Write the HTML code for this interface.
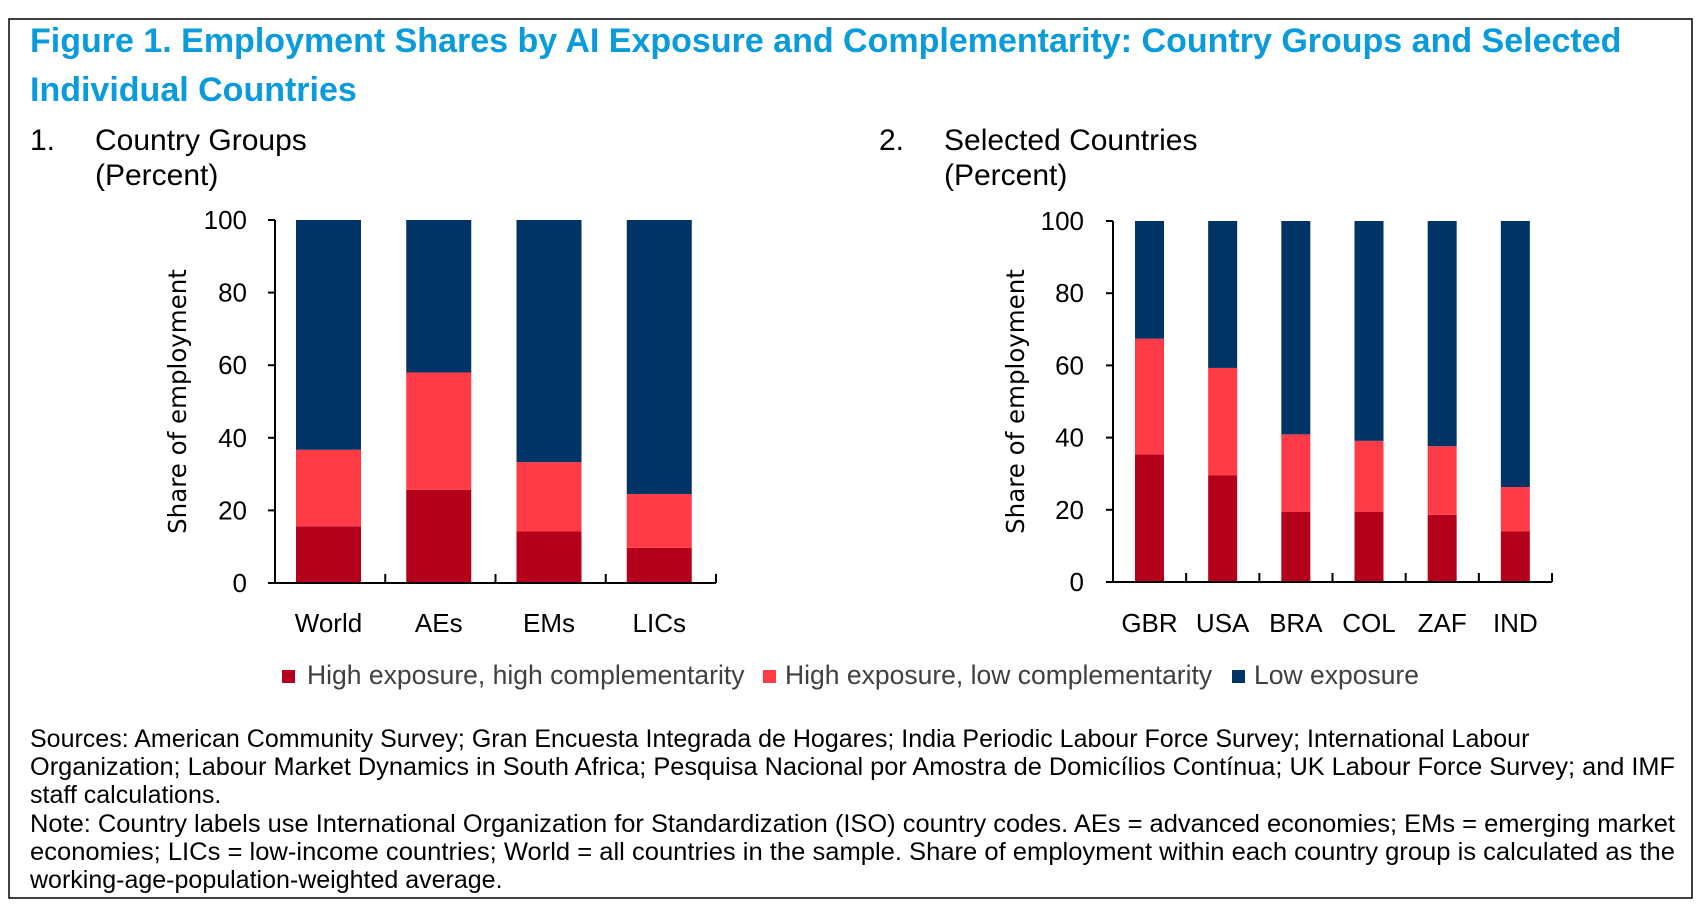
<!DOCTYPE html>
<html><head><meta charset="utf-8"><style>
html,body{margin:0;padding:0;background:#fff;}
svg{display:block;}
</style></head><body>
<svg id="fig" width="1702" height="916" xmlns="http://www.w3.org/2000/svg">
<rect x="9" y="19" width="1683" height="879" fill="none" stroke="#000" stroke-width="1.5"/>
<g font-family="Liberation Sans, Arial, sans-serif" font-weight="bold" fill="#0a9bdc" font-size="34">
<text x="30" y="52">Figure 1.  Employment Shares by AI Exposure and Complementarity: Country Groups and Selected</text>
<text x="30" y="101">Individual Countries</text>
</g>
<g font-family="Liberation Sans, Arial, sans-serif" font-size="30" fill="#000">
<text x="30" y="150">1.</text>
<text x="95" y="150">Country Groups</text>
<text x="95" y="185">(Percent)</text>
<text x="879" y="150">2.</text>
<text x="944" y="150">Selected Countries</text>
<text x="944" y="185">(Percent)</text>
</g>
<g id="chart1"></g>
<g id="chart2"></g>
<g font-family="Liberation Sans, Arial, sans-serif" font-size="26.5" fill="#404040">
<g><rect x="282" y="670" width="13" height="13" fill="#b5001c"/><text x="307" y="684">High exposure, high complementarity</text></g>
<g><rect x="763" y="670" width="13" height="13" fill="#ff3b48"/><text x="785" y="684">High exposure, low complementarity</text></g>
<g><rect x="1232" y="670" width="13" height="13" fill="#003366"/><text x="1254" y="684">Low exposure</text></g>
</g>
<g font-family="Liberation Sans, Arial, sans-serif" font-size="25" fill="#000">
<text x="30" y="747">Sources: American Community Survey; Gran Encuesta Integrada de Hogares; India Periodic Labour Force Survey; International Labour</text>
<text x="30" y="775" textLength="1645" lengthAdjust="spacingAndGlyphs">Organization; Labour Market Dynamics in South Africa; Pesquisa Nacional por Amostra de Domicílios Contínua; UK Labour Force Survey; and IMF</text>
<text x="30" y="803">staff calculations.</text>
<text x="30" y="832" textLength="1645" lengthAdjust="spacingAndGlyphs">Note: Country labels use International Organization for Standardization (ISO) country codes. AEs = advanced economies; EMs = emerging market</text>
<text x="30" y="860" textLength="1645" lengthAdjust="spacingAndGlyphs">economies; LICs = low-income countries; World = all countries in the sample. Share of employment within each country group is calculated as the</text>
<text x="30" y="888">working-age-population-weighted average.</text>
</g>
</svg>
<script>
const groupCats = ["World","AEs","EMs","LICs"];
const groupHighHigh = [15.6, 25.7, 14.2, 9.7];
const groupHighLow = [21.1, 32.3, 19.1, 14.8];
const groupLow = [63.3, 42.0, 66.7, 75.5];
const countryCats = ["GBR","USA","BRA","COL","ZAF","IND"];
const countryHighHigh = [35.3, 29.5, 19.4, 19.4, 18.6, 14.0];
const countryHighLow = [32.1, 29.8, 21.5, 19.7, 19.0, 12.3];
const countryLow = [32.6, 40.7, 59.1, 60.9, 62.4, 73.7];
const yTicks = [0, 20, 40, 60, 80, 100];
const colors = ["#b5001c", "#ff3b48", "#003366"];
const NS = "http://www.w3.org/2000/svg";
function mk(tag, attrs, parent){const e=document.createElementNS(NS,tag);for(const k in attrs)e.setAttribute(k,attrs[k]);parent.appendChild(e);return e;}
function draw(gid, cats, series, L){
  const g=document.getElementById(gid);
  const y=v=>L.y0-(L.y0-L.y100)*v/100;
  const bw=(L.x1-L.x0)/cats.length;
  const ax=mk('line',{x1:L.x0,y1:L.y100,x2:L.x0,y2:L.y0,stroke:'#000','stroke-width':2},g);
  
  
  cats.forEach((c,i)=>{
    let acc=0;
    series.forEach((s,j)=>{
      const r=mk('rect',{x:L.x0+i*bw+L.off,y:y(acc+s[i]),width:L.w,height:y(acc)-y(acc+s[i]),fill:colors[j]},g);
      
      
      acc+=s[i];
    });
    const t=mk('text',{x:L.x0+i*bw+L.off+L.w/2,y:632,'text-anchor':'middle','font-family':'Liberation Sans, Arial, sans-serif','font-size':26},g);
    t.textContent=c;
    
    
    const tk=mk('line',{x1:L.x0+(i+1)*bw,y1:L.y0,x2:L.x0+(i+1)*bw,y2:L.y0-9,stroke:'#000','stroke-width':2},g);
    
    
  });
  const xa=mk('line',{x1:L.x0,y1:L.y0,x2:L.x1,y2:L.y0,stroke:'#000','stroke-width':2},g);
  
  
  yTicks.forEach(v=>{
    const l=mk('line',{x1:L.x0-7,y1:y(v),x2:L.x0,y2:y(v),stroke:'#000','stroke-width':2},g);
    
    
    const t=mk('text',{x:L.lx,y:y(v)+9,'text-anchor':'end','font-family':'Liberation Sans, Arial, sans-serif','font-size':26},g);
    t.textContent=v;
    
    
  });
  const yt=mk('text',{x:0,y:0,transform:'translate('+L.tx+','+((L.y0+L.y100)/2)+') rotate(-90)','text-anchor':'middle','font-family':'DejaVu Sans, sans-serif','font-size':24.5},g);
  yt.textContent='Share of employment';
  
  
}
draw('chart1',groupCats,[groupHighHigh,groupHighLow,groupLow],{x0:275,x1:716,y0:583,y100:220,off:21,w:65,lx:247,tx:186});
draw('chart2',countryCats,[countryHighHigh,countryHighLow,countryLow],{x0:1113,x1:1552,y0:582,y100:221,off:22,w:29,lx:1084,tx:1024});
</script>
</body></html>
